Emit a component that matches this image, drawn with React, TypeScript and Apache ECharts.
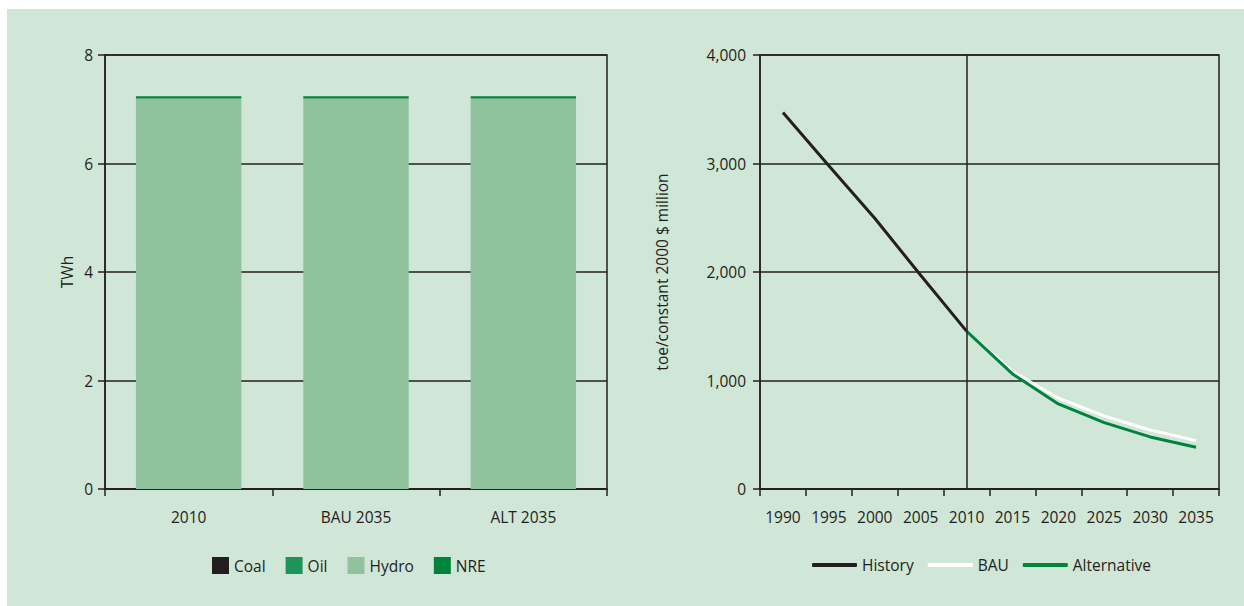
import React, { useEffect, useRef } from "react";
import * as echarts from "echarts";

const barCategories = ["2010", "BAU 2035", "ALT 2035"];
const coal = [0, 0, 0];
const oil = [0, 0, 0];
const hydro = [7.2, 7.2, 7.2];
const nre = [0.04, 0.04, 0.04];

const years = ["1990", "1995", "2000", "2005", "2010", "2015", "2020", "2025", "2030", "2035"];
const history = [3470, 2980, 2495, 1970, 1455, null, null, null, null, null];
const bau = [null, null, null, null, 1455, 1083, 837, 673, 544, 446];
const alternative = [null, null, null, null, 1455, 1061, 784, 612, 480, 385];

const TXT = "#231f20";
const FONT = "'Open Sans', 'Noto Sans', sans-serif";
const FS = 15.5;

export default function App() {
  const ref = useRef<HTMLDivElement>(null);
  useEffect(() => {
    if (!ref.current) return;
    const chart = echarts.init(ref.current, null, { renderer: "svg" });
    const axisLine = { show: true, lineStyle: { color: TXT, width: 1.5 } };
    const axisTick = { show: true, length: 7, interval: 0, lineStyle: { color: TXT, width: 1.5 } };
    const label = { color: TXT, fontSize: FS, fontFamily: FONT };
    const split = { show: true, lineStyle: { color: TXT, width: 1.5 } };
    chart.setOption({
      animation: false,
      backgroundColor: "#d0e6d7",
      textStyle: { fontFamily: FONT, color: TXT },
      grid: [
        { left: 98, top: 46, width: 502, height: 434, show: true, borderColor: TXT, borderWidth: 1.5, backgroundColor: "transparent" },
        { left: 753, top: 46, width: 459, height: 434, show: true, borderColor: TXT, borderWidth: 1.5, backgroundColor: "transparent" },
      ],
      legend: [
        {
          data: ["Coal", "Oil", "Hydro", "NRE"],
          left: 200,
          top: 543,
          itemWidth: 17,
          itemHeight: 17,
          itemGap: 20,
          icon: "rect",
          textStyle: { color: TXT, fontSize: FS, fontFamily: FONT },
        },
        {
          data: ["History", "BAU", "Alternative"],
          left: 800,
          top: 543,
          itemWidth: 45,
          itemHeight: 4,
          itemGap: 14,
          icon: "roundRect",
          textStyle: { color: TXT, fontSize: FS, fontFamily: FONT },
        },
      ],
      xAxis: [
        {
          type: "category",
          gridIndex: 0,
          data: barCategories,
          axisLine,
          axisTick,
          axisLabel: { ...label, margin: 20, interval: 0 },
        },
        {
          type: "category",
          gridIndex: 1,
          data: years,
          axisLine,
          axisTick,
          axisLabel: { ...label, margin: 20, interval: 0 },
        },
      ],
      yAxis: [
        {
          type: "value",
          gridIndex: 0,
          min: 0,
          max: 8,
          interval: 2,
          name: "TWh",
          nameLocation: "middle",
          nameGap: 30,
          nameTextStyle: { color: TXT, fontSize: FS, fontFamily: FONT },
          axisLine,
          axisTick,
          axisLabel: { ...label, margin: 12 },
          splitLine: split,
        },
        {
          type: "value",
          gridIndex: 1,
          min: 0,
          max: 4000,
          interval: 1000,
          name: "toe/constant 2000 $ million",
          nameLocation: "middle",
          nameGap: 90,
          nameTextStyle: { color: TXT, fontSize: FS, fontFamily: FONT },
          axisLine,
          axisTick,
          axisLabel: {
            ...label,
            margin: 14,
            formatter: (v: number) => v.toLocaleString("en-US"),
          },
          splitLine: split,
        },
      ],
      series: [
        { name: "Coal", type: "bar", stack: "s", xAxisIndex: 0, yAxisIndex: 0, data: coal, barWidth: "63%", itemStyle: { color: "#231f20" } },
        { name: "Oil", type: "bar", stack: "s", xAxisIndex: 0, yAxisIndex: 0, data: oil, itemStyle: { color: "#1f945a" } },
        { name: "Hydro", type: "bar", stack: "s", xAxisIndex: 0, yAxisIndex: 0, data: hydro, itemStyle: { color: "#90c29e" } },
        { name: "NRE", type: "bar", stack: "s", xAxisIndex: 0, yAxisIndex: 0, data: nre, itemStyle: { color: "#00843d" } },
        {
          name: "History",
          type: "line",
          xAxisIndex: 1,
          yAxisIndex: 1,
          data: history,
          symbol: "none",
          lineStyle: { color: "#231f20", width: 3 },
          itemStyle: { color: "#231f20" },
          markLine: {
            silent: true,
            symbol: ["none", "none"],
            label: { show: false },
            lineStyle: { color: TXT, width: 1.5, type: "solid" },
            data: [{ xAxis: "2010" }],
          },
        },
        {
          name: "BAU",
          type: "line",
          xAxisIndex: 1,
          yAxisIndex: 1,
          data: bau,
          symbol: "none",
          lineStyle: { color: "#ffffff", width: 3 },
          itemStyle: { color: "#ffffff" },
        },
        {
          name: "Alternative",
          type: "line",
          xAxisIndex: 1,
          yAxisIndex: 1,
          data: alternative,
          symbol: "none",
          lineStyle: { color: "#00843d", width: 3 },
          itemStyle: { color: "#00843d" },
        },
      ],
    });
    return () => chart.dispose();
  }, []);
  return (
    <div
      ref={ref}
      style={{ position: "absolute", left: 7, top: 9, width: 1237, height: 597 }}
    />
  );
}
